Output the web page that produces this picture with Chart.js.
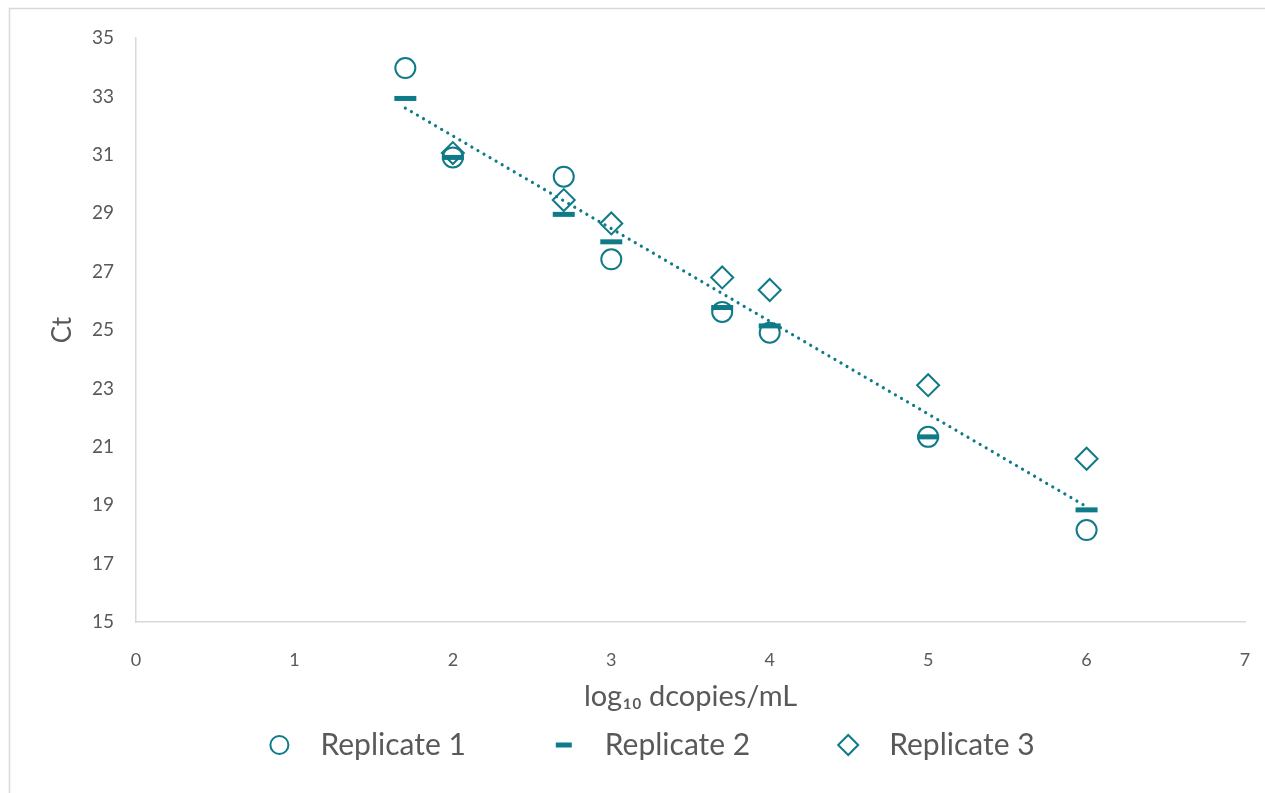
<!DOCTYPE html>
<html>
<head>
<meta charset="utf-8">
<script src="https://cdn.jsdelivr.net/npm/chart.js@4/dist/chart.umd.min.js"></script>
<style>
  html, body { margin: 0; padding: 0; background: #fff; }
  #wrap { position: absolute; left: 0; top: 0; width: 1265px; height: 793px; }
</style>
</head>
<body>
<div id="wrap"><canvas id="c" width="1265" height="793"></canvas></div>
<script>
const xValues = [1.7, 2, 2.7, 3, 3.7, 4, 5, 6];
const replicate1 = [33.97, 30.91, 30.25, 27.42, 25.62, 24.91, 21.34, 18.15];
const replicate2 = [32.93, 30.91, 28.96, 28.02, 25.77, 25.14, 21.34, 18.84];
const xValues3 = [2, 2.7, 3, 3.7, 4, 5, 6];
const replicate3 = [31.06, 29.45, 28.65, 26.80, 26.37, 23.11, 20.59];
const trendX = [1.7, 6];
const trendY = [32.6, 18.95];
const seriesNames = ['Replicate 1', 'Replicate 2', 'Replicate 3'];
const xTitle = 'log\u2081\u2080 dcopies/mL';
const yTitle = 'Ct';

const TEAL = '#0F7B88';
const TEXT = '#595959';
const AXIS = '#D9D9D9';
const FONT = 'Lato, "Liberation Sans", sans-serif';

const pts = (xs, ys) => xs.map((x, i) => ({ x: x, y: ys[i] }));

const borderPlugin = {
  id: 'outerBorder',
  beforeDraw(chart) {
    const ctx = chart.ctx;
    ctx.save();
    ctx.fillStyle = '#fff';
    ctx.fillRect(0, 0, chart.width, chart.height);
    ctx.strokeStyle = AXIS;
    ctx.lineWidth = 1.5;
    ctx.strokeRect(9.5, 8.5, 1300, 900);
    ctx.restore();
  }
};

// Legend drawn on the chart canvas from the chart's own datasets
const legendPlugin = {
  id: 'customLegend',
  afterDraw(chart) {
    const ctx = chart.ctx;
    const items = chart.data.datasets.filter(d => d.label !== 'trend');
    const fontSize = 30;
    const markerToText = 41, textToNext = 98, r = 10;
    const centerX = 652, y = 745;
    ctx.save();
    ctx.font = fontSize + 'px ' + FONT;
    const widths = items.map(d => ctx.measureText(d.label).width);
    const span = widths.reduce((a, w) => a + markerToText + w, 0) + textToNext * (items.length - 1) + r;
    let x = centerX - span / 2 + r;
    items.forEach((d, i) => {
      ctx.strokeStyle = d.borderColor;
      ctx.fillStyle = d.pointStyle === 'line' ? d.borderColor : '#fff';
      ctx.lineWidth = d.borderWidth;
      Chart.helpers.drawPoint(ctx, {
        pointStyle: d.pointStyle,
        radius: d.pointStyle === 'line' ? 8 : (d.pointStyle === 'rectRot' ? 10 : 9),
        rotation: 0,
        borderWidth: d.borderWidth
      }, x, y);
      ctx.fillStyle = TEXT;
      ctx.textBaseline = 'middle';
      ctx.textAlign = 'left';
      ctx.fillText(d.label, x + markerToText, y);
      x += markerToText + widths[i] + textToNext;
    });
    ctx.restore();
  }
};

new Chart(document.getElementById('c'), {
  type: 'scatter',
  data: {
    datasets: [
      {
        label: seriesNames[0],
        data: pts(xValues, replicate1),
        pointStyle: 'circle',
        pointRadius: 10,
        borderWidth: 2,
        borderColor: TEAL,
        backgroundColor: 'rgba(255,255,255,0)',
        order: 1
      },
      {
        label: seriesNames[1],
        data: pts(xValues, replicate2),
        pointStyle: 'line',
        pointRadius: 11,
        borderWidth: 5,
        borderColor: TEAL,
        backgroundColor: TEAL,
        order: 2
      },
      {
        label: seriesNames[2],
        data: pts(xValues3, replicate3),
        pointStyle: 'rectRot',
        pointRadius: 11,
        borderWidth: 2,
        borderColor: TEAL,
        backgroundColor: 'rgba(255,255,255,0)',
        order: 3
      },
      {
        label: 'trend',
        type: 'line',
        data: pts(trendX, trendY),
        showLine: true,
        pointRadius: 0,
        borderColor: TEAL,
        borderWidth: 3.2,
        borderDash: [0.01, 7],
        borderCapStyle: 'round',
        fill: false,
        order: 0
      }
    ]
  },
  options: {
    responsive: false,
    animation: false,
    devicePixelRatio: 1,
    layout: { padding: { left: 10, right: 20, top: 38, bottom: 0 } },
    plugins: {
      tooltip: { enabled: false },
      legend: { display: false }
    },
    scales: {
      x: {
        type: 'linear',
        min: 0, max: 7,
        ticks: { stepSize: 1, color: TEXT, font: { family: FONT, size: 18 }, padding: 3 },
        grid: { display: true, drawOnChartArea: false, drawTicks: true, tickLength: 24, tickColor: 'rgba(0,0,0,0)', color: 'rgba(0,0,0,0)' },
        border: { display: true, color: AXIS, width: 1.5 },
        title: { display: true, text: xTitle, color: TEXT, font: { family: FONT, size: 29 }, padding: { top: 8, bottom: 79 } },
        afterFit(scale) { scale.height = 171; }
      },
      y: {
        type: 'linear',
        min: 15, max: 35,
        ticks: { stepSize: 2, color: TEXT, font: { family: FONT, size: 19 }, padding: 22 },
        grid: { display: false, drawTicks: false },
        border: { display: true, color: AXIS, width: 1.5 },
        title: { display: true, text: yTitle, color: TEXT, font: { family: FONT, size: 26 }, padding: { top: 37, bottom: 0 } },
        afterFit(scale) { scale.width = 126; }
      }
    }
  },
  plugins: [borderPlugin, legendPlugin]
});
</script>
</body>
</html>
